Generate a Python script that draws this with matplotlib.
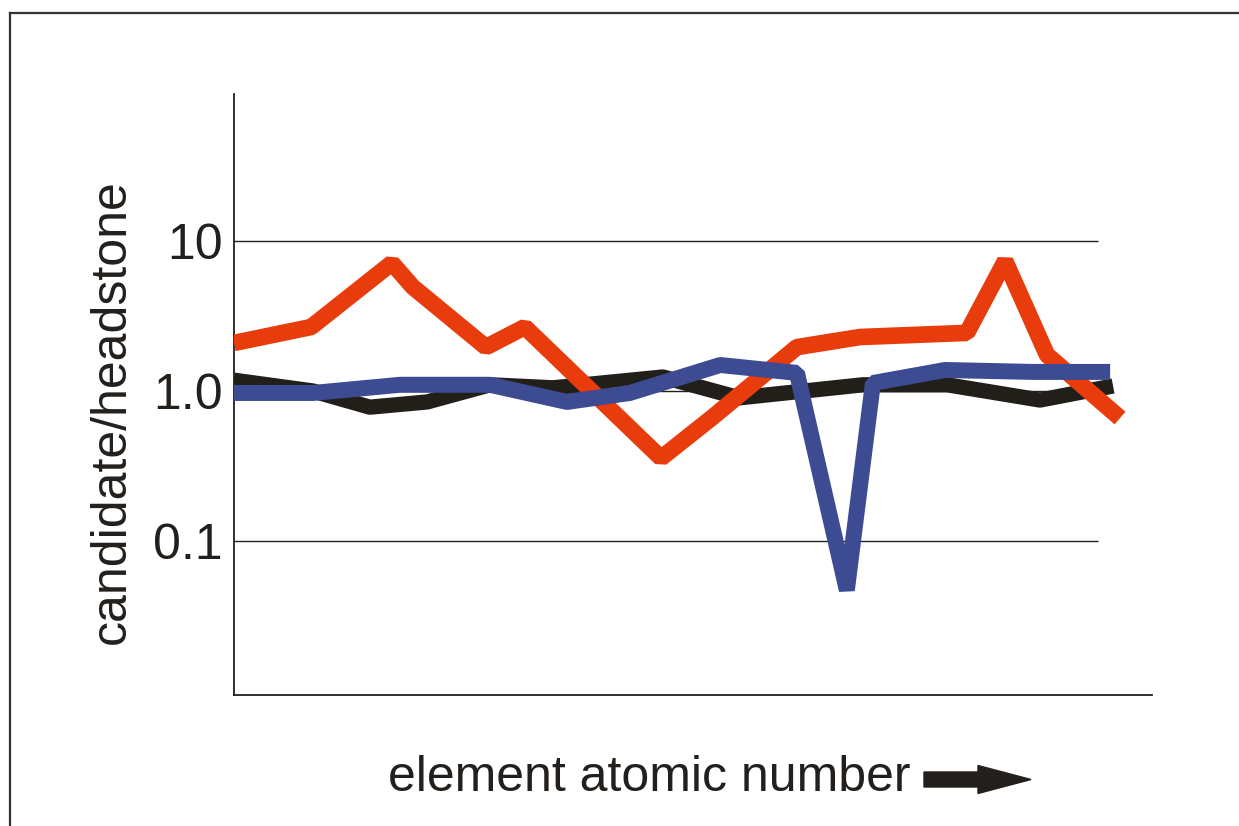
import numpy as np
import matplotlib.pyplot as plt
from matplotlib.lines import Line2D
from matplotlib.patches import FancyArrow

plt.rcParams['font.family'] = ['Liberation Sans', 'DejaVu Sans']

# positions along the element axis (arbitrary units) and ratio values
red_x = [0, 2.10, 4.30, 4.87, 6.86, 7.92, 11.63, 13.04, 15.33, 17.05, 19.96, 21.00, 22.14, 24.13]
red_y = [2.09, 2.67, 7.13, 4.94, 1.96, 2.67, 0.357, 0.671, 1.96, 2.29, 2.44, 7.36, 1.74, 0.66]

blue_x = [0, 2.15, 4.52, 6.97, 9.07, 10.78, 13.24, 15.33, 16.69, 17.40, 19.36, 21.76, 23.86]
blue_y = [0.97, 0.97, 1.10, 1.10, 0.845, 0.97, 1.49, 1.32, 0.047, 1.13, 1.38, 1.34, 1.34]

black_x = [0, 2.15, 3.70, 5.26, 6.97, 8.69, 11.68, 13.76, 17.13, 19.42, 21.95, 23.94]
black_y = [1.18, 1.0, 0.78, 0.845, 1.10, 1.05, 1.24, 0.90, 1.10, 1.10, 0.87, 1.08]

yticks = [0.1, 1.0, 10]
ytick_labels = ["0.1", "1.0", "10"]

ink = '#231f1c'

fig = plt.figure(figsize=(12.39, 8.26), dpi=100)
ax = fig.add_axes([234 / 1239, 1 - 695 / 826, 918 / 1239, 601 / 826])

ax.set_yscale('log')
ax.set_xlim(0, 25)
ax.set_ylim(0.0094, 95.5)

# horizontal reference lines
ax.hlines(yticks, 0, 23.53, color=ink, lw=1.0, zorder=1)

ax.plot(black_x, black_y, color='#221f1b', lw=11, solid_joinstyle='bevel',
        solid_capstyle='butt', zorder=2)
ax.plot(red_x, red_y, color='#e83c0c', lw=12, solid_joinstyle='bevel',
        solid_capstyle='butt', zorder=3)
ax.plot(blue_x, blue_y, color='#3c4b92', lw=11.5, solid_joinstyle='bevel',
        solid_capstyle='butt', zorder=4)

ax.set_yticks(yticks)
ax.set_yticklabels(ytick_labels)
ax.minorticks_off()
ax.tick_params(axis='y', length=0, pad=8, labelsize=36, labelcolor=ink)
ax.set_xticks([])

for side in ['top', 'right']:
    ax.spines[side].set_visible(False)
for side in ['left', 'bottom']:
    ax.spines[side].set_color(ink)
    ax.spines[side].set_linewidth(1.3)

fig.text(112 / 1239, 1 - 412 / 826, "candidate/headstone", rotation=90,
         fontsize=36, color=ink, ha='center', va='center')
fig.text(388 / 1239, 1 - 778 / 826, "element atomic number", fontsize=36,
         color=ink, ha='left', va='center')

# arrow after the x label
arrow = FancyArrow(924 / 1239, 1 - 779.5 / 826, 107 / 1239, 0,
                   width=15 / 826, head_width=28 / 826, head_length=53 / 1239,
                   length_includes_head=True, color=ink, transform=fig.transFigure)
fig.add_artist(arrow)

# outer frame (top and left edges)
fig.add_artist(Line2D([9.5 / 1239, 1.0], [1 - 13 / 826, 1 - 13 / 826],
                      color='#333333', lw=1.6, transform=fig.transFigure))
fig.add_artist(Line2D([9.5 / 1239, 9.5 / 1239], [0, 1 - 13 / 826],
                      color='#333333', lw=1.6, transform=fig.transFigure))

fig.savefig('out.png', dpi=100)
